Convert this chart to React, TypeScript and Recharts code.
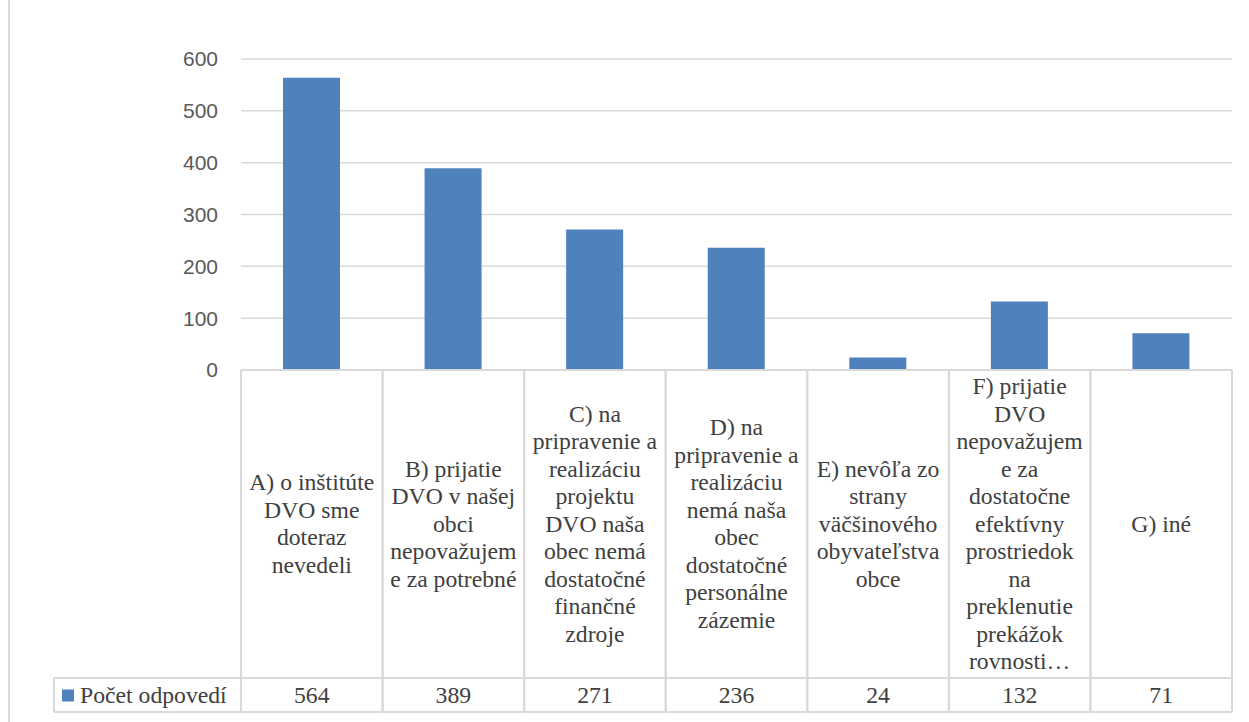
import React from 'react';
import { BarChart, Bar, XAxis, YAxis, CartesianGrid } from 'recharts';

const categories = ['A', 'B', 'C', 'D', 'E', 'F', 'G'];
const categoryLines: string[][] = [
  ['A) o inštitúte', 'DVO sme', 'doteraz', 'nevedeli'],
  ['B) prijatie', 'DVO v našej', 'obci', 'nepovažujem', 'e za potrebné'],
  ['C) na', 'pripravenie a', 'realizáciu', 'projektu', 'DVO naša', 'obec nemá', 'dostatočné', 'finančné', 'zdroje'],
  ['D) na', 'pripravenie a', 'realizáciu', 'nemá naša', 'obec', 'dostatočné', 'personálne', 'zázemie'],
  ['E) nevôľa zo', 'strany', 'väčšinového', 'obyvateľstva', 'obce'],
  ['F) prijatie', 'DVO', 'nepovažujem', 'e za', 'dostatočne', 'efektívny', 'prostriedok', 'na', 'preklenutie', 'prekážok', 'rovnosti…'],
  ['G) iné'],
];
const values = [564, 389, 271, 236, 24, 132, 71];
const yTicks = [0, 100, 200, 300, 400, 500, 600];
const seriesName = 'Počet odpovedí';

const data = categories.map((c, i) => ({ cat: c, value: values[i] }));

const W = 1249;
const H = 722;
const MARGIN = { top: 59, right: 17, bottom: 10, left: 181 };
const YAXIS_W = 60;
const PLOT_LEFT = MARGIN.left + YAXIS_W;
const TABLE_H = 342;
const CAT_ROW_H = 308;
const LEGEND_LEFT = 54;
const LINE_H = 27.5;
const FONT = 23.7;
const BASE_OFF = 7.5;
const GRID = '#d9d9d9';
const TEXT = '#404040';
const BAR = '#4f81bd';
const SERIF = "'Liberation Serif', 'DejaVu Serif', serif";

function TableTick(props: any) {
  const { x, y, index } = props;
  const half = (x - PLOT_LEFT) / (2 * index + 1);
  const left = x - half;
  const right = x + half;
  const lines = categoryLines[index] || [];
  const mid = y + CAT_ROW_H / 2;
  const firstY = mid - ((lines.length - 1) / 2) * LINE_H + BASE_OFF;
  const rowMid = y + CAT_ROW_H + (TABLE_H - CAT_ROW_H) / 2 + BASE_OFF;
  const ls = { stroke: GRID, strokeWidth: 2 };
  return (
    <g fontFamily={SERIF} style={{ fontFamily: SERIF }}>
      <line x1={left} y1={y} x2={left} y2={y + TABLE_H} {...ls} />
      <line x1={right} y1={y} x2={right} y2={y + TABLE_H} {...ls} />
      <line x1={left} y1={y} x2={right} y2={y} {...ls} />
      <line x1={left} y1={y + CAT_ROW_H} x2={right} y2={y + CAT_ROW_H} {...ls} />
      <line x1={left} y1={y + TABLE_H} x2={right} y2={y + TABLE_H} {...ls} />
      <text textAnchor="middle" fill={TEXT} fontSize={FONT} fontFamily={SERIF} style={{ fontFamily: SERIF }}>
        {lines.map((l, i) => (
          <tspan key={i} x={x} y={firstY + i * LINE_H} fontFamily={SERIF}>{l}</tspan>
        ))}
      </text>
      <text x={x} y={rowMid} textAnchor="middle" fill={TEXT} fontSize={FONT} fontFamily={SERIF} style={{ fontFamily: SERIF }}>
        {data[index]?.value}
      </text>
      {index === 0 && (
        <g>
          <line x1={LEGEND_LEFT} y1={y + CAT_ROW_H} x2={left} y2={y + CAT_ROW_H} {...ls} />
          <line x1={LEGEND_LEFT} y1={y + TABLE_H} x2={left} y2={y + TABLE_H} {...ls} />
          <line x1={LEGEND_LEFT} y1={y + CAT_ROW_H} x2={LEGEND_LEFT} y2={y + TABLE_H} {...ls} />
          <rect x={LEGEND_LEFT + 8} y={rowMid - 13} width={12} height={12} fill={BAR} />
          <text x={LEGEND_LEFT + 26} y={rowMid} fill={TEXT} fontSize={FONT} fontFamily={SERIF} style={{ fontFamily: SERIF }}>
            {seriesName}
          </text>
        </g>
      )}
    </g>
  );
}

export default function App() {
  return (
    <div style={{ position: 'fixed', left: 0, top: 0, width: W, height: H, background: '#fff', overflow: 'hidden' }}>
      <div style={{ position: 'absolute', left: 8, top: 0, width: 2, height: H, background: GRID }} />
      <BarChart width={W} height={H} data={data} margin={MARGIN} barSize={57}>
        <CartesianGrid vertical={false} stroke={GRID} strokeWidth={1.5} />
        <XAxis
          dataKey="cat"
          interval={0}
          tickLine={false}
          axisLine={false}
          height={TABLE_H}
          tickSize={0}
          tickMargin={0}
          tick={(p: any) => <TableTick {...p} />}
        />
        <YAxis
          domain={[0, 600]}
          ticks={yTicks}
          interval={0}
          width={YAXIS_W}
          tickLine={false}
          axisLine={false}
          tickSize={0}
          tickMargin={23}
          tick={{ fill: '#595959', fontSize: 21, fontFamily: 'Liberation Sans, Arial, sans-serif' }}
        />
        <Bar dataKey="value" name={seriesName} fill={BAR} isAnimationActive={false} />
      </BarChart>
    </div>
  );
}
